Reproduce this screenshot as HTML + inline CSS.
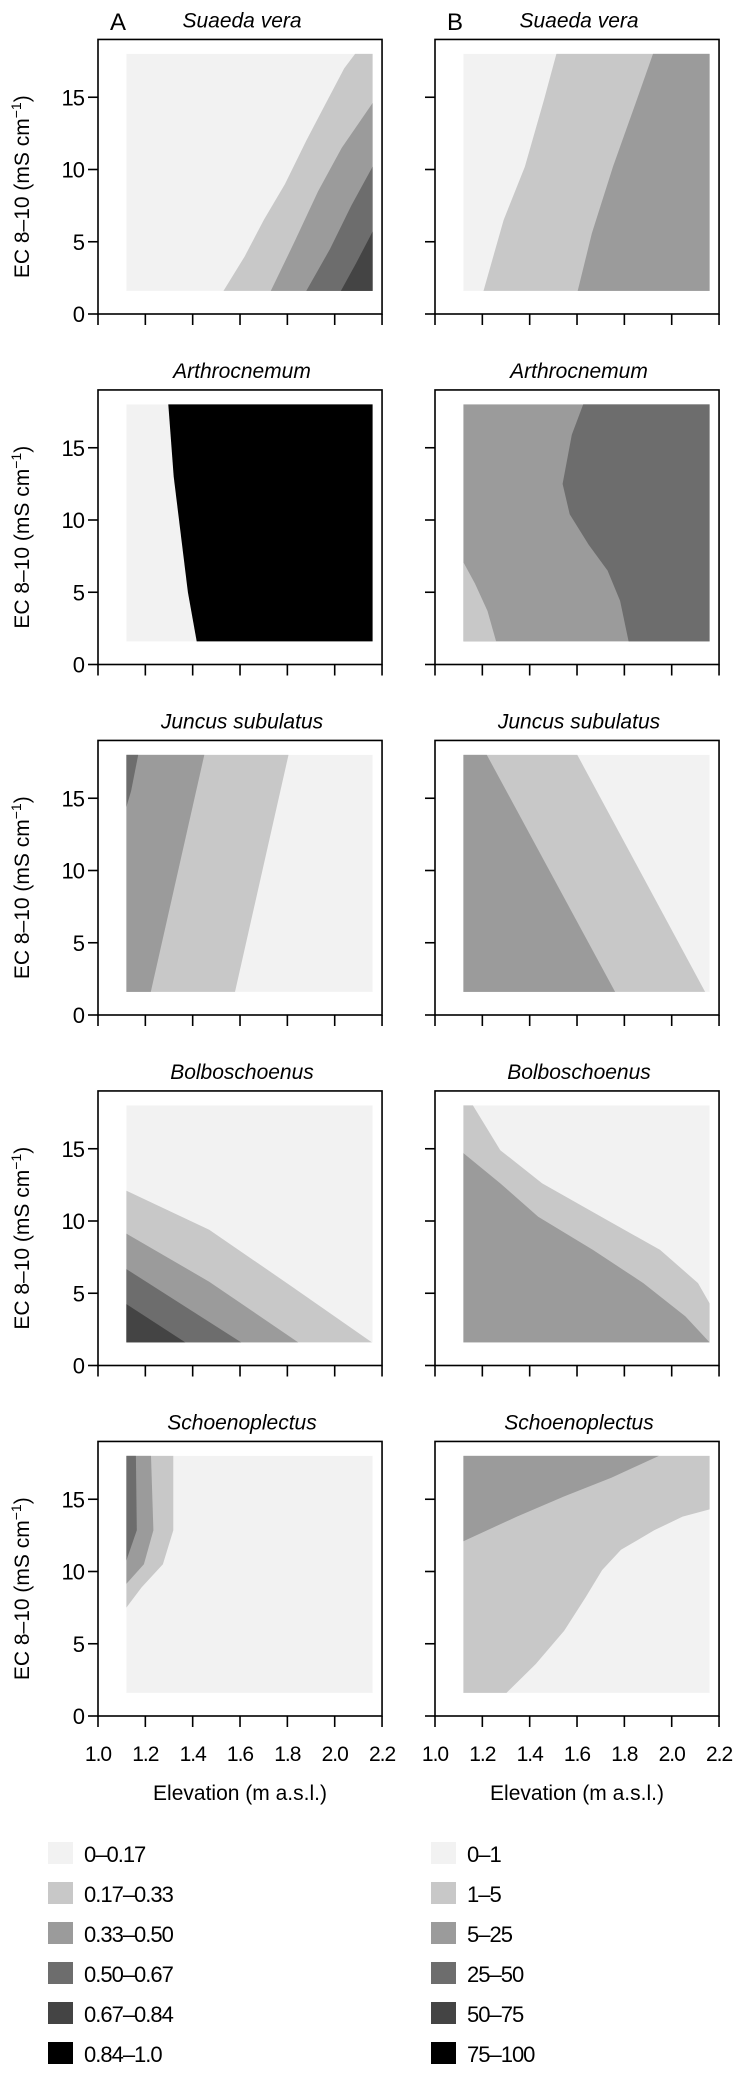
<!DOCTYPE html>
<html><head><meta charset="utf-8"><style>
html,body{margin:0;padding:0;background:#fff;}
svg text{font-family:"Liberation Sans",sans-serif;fill:#000;}
</style></head><body>
<svg id="fig" width="739" height="2070" viewBox="0 0 739 2070" xmlns="http://www.w3.org/2000/svg"></svg>
<script>
const palette = ['#f2f2f2','#c8c8c8','#9b9b9b','#6d6d6d','#444444','#000000'];
const titles = ['Suaeda vera','Arthrocnemum','Juncus subulatus','Bolboschoenus','Schoenoplectus'];
const xTicks = [1.0,1.2,1.4,1.6,1.8,2.0,2.2];
const xTickLabels = ['1.0','1.2','1.4','1.6','1.8','2.0','2.2'];
const yTicks = [0,5,10,15];
const regionX = [1.12,2.16];
const regionY = [1.6,18];
const legendA = ['0–0.17','0.17–0.33','0.33–0.50','0.50–0.67','0.67–0.84','0.84–1.0'];
const legendB = ['0–1','1–5','5–25','25–50','50–75','75–100'];

// layers: [colorIndex, polygon in (elevation, EC)]
const suaedaA = [[1,[[1.53,1.6],[1.62,4],[1.70,6.5],[1.79,9],[1.88,12],[1.96,14.5],[2.04,17],[2.086,18],[2.16,18],[2.16,1.6]]],
 [2,[[1.73,1.6],[1.83,5],[1.93,8.5],[2.03,11.5],[2.16,14.6],[2.16,1.6]]],
 [3,[[1.88,1.6],[1.98,4.5],[2.07,7.5],[2.16,10.2],[2.16,1.6]]],
 [4,[[2.026,1.6],[2.09,3.5],[2.16,5.7],[2.16,1.6]]]];
const suaedaB = [[1,[[1.205,1.6],[1.29,6.5],[1.38,10.2],[1.46,14.8],[1.513,18],[2.16,18],[2.16,1.6]]],
 [2,[[1.603,1.6],[1.663,5.6],[1.752,10.2],[1.852,14.8],[1.921,18],[2.16,18],[2.16,1.6]]]];
const arthroA = [[5,[[1.297,18],[1.32,13],[1.35,9],[1.38,5],[1.417,1.6],[2.16,1.6],[2.16,18]]]];
const arthroB = [[3,[[1.626,18],[1.578,15.9],[1.539,12.5],[1.569,10.4],[1.649,8.3],[1.729,6.5],[1.782,4.4],[1.818,1.6],[2.16,1.6],[2.16,18]]],
 [1,[[1.12,7.07],[1.169,5.6],[1.222,3.7],[1.258,1.6],[1.12,1.6]]]];
const juncusA = [[1,[[1.805,18],[1.579,1.6],[1.12,1.6],[1.12,18]]],
 [2,[[1.449,18],[1.223,1.6],[1.12,1.6],[1.12,18]]],
 [3,[[1.17,18],[1.14,15.5],[1.12,14.4],[1.12,18]]]];
const juncusB = [[1,[[1.601,18],[2.141,1.6],[1.12,1.6],[1.12,18]]],
 [2,[[1.219,18],[1.761,1.6],[1.12,1.6],[1.12,18]]]];
const bolboA = [[1,[[1.12,12.1],[1.47,9.4],[1.82,5.45],[2.157,1.6],[1.12,1.6]]],
 [2,[[1.12,9.13],[1.47,5.8],[1.846,1.6],[1.12,1.6]]],
 [3,[[1.12,6.67],[1.605,1.6],[1.12,1.6]]],
 [4,[[1.12,4.25],[1.369,1.6],[1.12,1.6]]]];
const bolboB = [[1,[[1.12,18],[1.16,18],[1.276,14.9],[1.453,12.6],[1.702,10.3],[1.951,8.0],[2.111,5.7],[2.16,4.3],[2.16,1.6],[1.12,1.6]]],
 [2,[[1.12,14.7],[1.276,12.6],[1.436,10.3],[1.667,8.0],[1.88,5.7],[2.058,3.4],[2.16,1.6],[1.12,1.6]]]];
const schoenoA = [[1,[[1.12,18],[1.318,18],[1.318,12.85],[1.274,10.5],[1.184,8.9],[1.12,7.5]]],
 [2,[[1.12,18],[1.224,18],[1.234,12.85],[1.194,10.5],[1.12,9.15]]],
 [3,[[1.12,18],[1.16,18],[1.164,12.85],[1.12,10.77]]]];
const schoenoB = [[1,[[1.12,18],[1.12,1.6],[1.302,1.6],[1.426,3.6],[1.546,5.9],[1.636,8.2],[1.706,10.1],[1.786,11.5],[1.926,12.85],[2.046,13.8],[2.16,14.3],[2.16,18]]],
 [2,[[1.12,12.1],[1.346,13.8],[1.546,15.2],[1.746,16.5],[1.946,18],[1.12,18]]]];
const backgrounds = [[0,0],[0,2],[0,0],[0,0],[0,0]];
const panelLayers = [[suaedaA,suaedaB],[arthroA,arthroB],[juncusA,juncusB],[bolboA,bolboB],[schoenoA,schoenoB]];

const NS='http://www.w3.org/2000/svg';
const svg=document.getElementById('fig');
function mk(tag,attrs,parent){const e=document.createElementNS(NS,tag);for(const k in attrs)e.setAttribute(k,attrs[k]);(parent||svg).appendChild(e);return e;}
const colLeft=[98,435], pxPerX=236.7, pxPerY=14.45, boxTopVal=19.0;
function rowY0(r){return 314+350.5*r;}
function sx(c,v){return colLeft[c]+(v-1)*pxPerX;}
function sy(r,v){return rowY0(r)-v*pxPerY;}

for(let r=0;r<5;r++){
 for(let c=0;c<2;c++){
  const g=mk('g',{});
  
  
  const bg=mk('rect',{x:sx(c,regionX[0]),y:sy(r,regionY[1]),width:sx(c,regionX[1])-sx(c,regionX[0]),height:sy(r,regionY[0])-sy(r,regionY[1]),fill:palette[backgrounds[r][c]]},g);
  
  
  panelLayers[r][c].forEach((L)=>{
   const pts=L[1].map(p=>sx(c,p[0]).toFixed(1)+','+sy(r,p[1]).toFixed(1)).join(' ');
   const pg=mk('polygon',{points:pts,fill:palette[L[0]]},g);
   
   
  });
  const bx=mk('rect',{x:colLeft[c],y:sy(r,boxTopVal),width:1.2*pxPerX,height:boxTopVal*pxPerY,fill:'none',stroke:'#000','stroke-width':1.6},g);
  
  
  xTicks.forEach((t,i)=>{
   const tk=mk('line',{x1:sx(c,t),x2:sx(c,t),y1:rowY0(r),y2:rowY0(r)+11,stroke:'#000','stroke-width':1.6},g);
   
   
   if(r===4){
    const tl=mk('text',{x:sx(c,t),y:rowY0(r)+45,'text-anchor':'middle','font-size':21,'letter-spacing':'-1'},g);
    tl.textContent=xTickLabels[i];
    
    
   }
  });
  yTicks.forEach(t=>{
   const tk=mk('line',{x1:colLeft[c]-10,x2:colLeft[c],y1:sy(r,t),y2:sy(r,t),stroke:'#000','stroke-width':1.6},g);
   
   
   if(c===0){
    const tl=mk('text',{x:colLeft[c]-14,y:sy(r,t)+8,'text-anchor':'end','font-size':22,'letter-spacing':'-1'},g);
    tl.textContent=String(t);
    
    
   }
  });
  const tt=mk('text',{x:colLeft[c]+144,y:sy(r,boxTopVal)-12,'text-anchor':'middle','font-size':21,'font-style':'italic'},g);
  tt.textContent=titles[r];
  
  
  if(r===0){
   const pl=mk('text',{x:colLeft[c]+12,y:30,'font-size':24},g);
   pl.textContent=c?'B':'A';
   
   
  }
  if(c===0){
   const cy=(sy(r,0)+sy(r,boxTopVal))/2+10;
   const yt=mk('text',{x:0,y:0,'text-anchor':'middle','font-size':21,transform:'translate(29,'+cy+') rotate(-90)'},g);
   yt.innerHTML='EC 8–10 (mS cm<tspan dy="-8" font-size="14">−1</tspan><tspan dy="8">)</tspan>';
   
   
  }
  if(r===4){
   const xt=mk('text',{x:colLeft[c]+142,y:1800,'text-anchor':'middle','font-size':21},g);
   xt.textContent='Elevation (m a.s.l.)';
   
   
  }
 }
}
[[legendA,48,84],[legendB,431,467]].forEach((L,li)=>{
 L[0].forEach((lab,i)=>{
  const g=mk('g',{});
  
  
  const yc=1853+40*i;
  mk('rect',{x:L[1],y:yc-11,width:25,height:22,fill:palette[i]},g);
  const t=mk('text',{x:L[2],y:yc+9,'font-size':22,'letter-spacing':'-1'},g);
  t.textContent=lab;
 });
});
</script>
</body></html>
